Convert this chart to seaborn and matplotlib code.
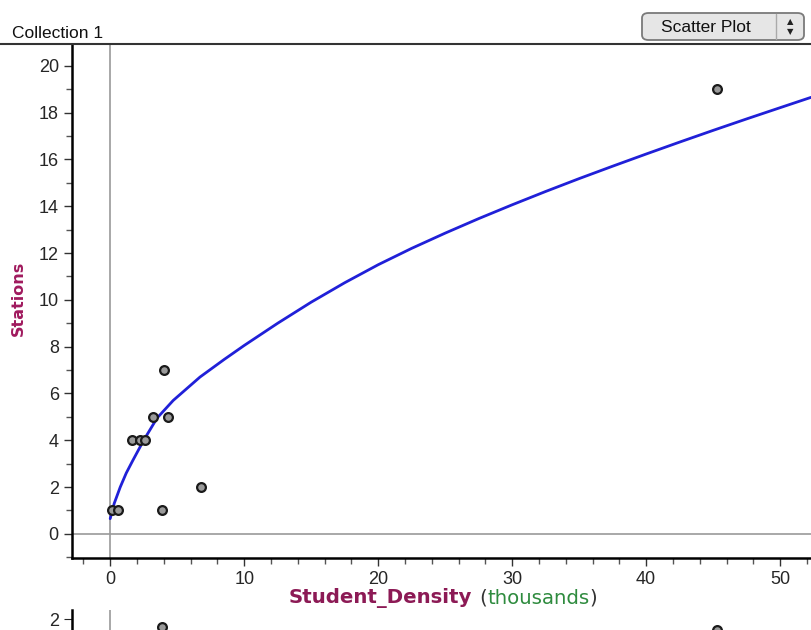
import numpy as np
import pandas as pd
import matplotlib
matplotlib.use('Agg')
import matplotlib.pyplot as plt
from matplotlib.patches import FancyBboxPatch
from matplotlib.lines import Line2D
from matplotlib.ticker import MultipleLocator
import seaborn as sns

# data
density = [0.1, 0.6, 1.6, 2.2, 2.6, 3.2, 4.3, 4.0, 3.9, 6.8, 45.3]
stations = [1, 1, 4, 4, 4, 5, 5, 7, 1, 2, 19]

# fitted curve
curve_x = [0, 0.3, 0.75, 1.2, 1.7, 2.5, 3.5, 4.7, 6.7, 8.5, 10, 12.5, 15, 17.5, 20,
           22.5, 25, 27.5, 30, 32.5, 35, 37.5, 40, 42.5, 45, 47.5, 50, 52.3]
curve_y = [0.65, 1.3, 2.0, 2.6, 3.15, 4.0, 4.95, 5.7, 6.7, 7.45, 8.05, 9.0, 9.9, 10.73,
           11.5, 12.2, 12.85, 13.47, 14.06, 14.63, 15.18, 15.71, 16.23, 16.74, 17.24,
           17.73, 18.21, 18.65]

# partial lower panel (only the top is visible)
resid_x = [3.9, 45.3]
resid_y = [1.67, 1.55]

sns.set_style("white")
plt.rcParams['font.family'] = ['Liberation Sans', 'DejaVu Sans']

W, H = 811, 630
fig = plt.figure(figsize=(W / 100, H / 100), dpi=100)

def box(l, t, r, b):
    return [l / W, 1 - b / H, (r - l) / W, (b - t) / H]

ax = fig.add_axes(box(72, 44, 811, 558))
df = pd.DataFrame({'x': density, 'y': stations})
curve = pd.DataFrame({'x': curve_x, 'y': curve_y})

ax.axvline(0, color='#999999', lw=1.2, zorder=1)
ax.axhline(0, color='#999999', lw=1.2, zorder=1)
sns.lineplot(data=curve, x='x', y='y', ax=ax, color='#2020d8', lw=2, zorder=2)
sns.scatterplot(data=df, x='x', y='y', ax=ax, color='#9a9a9a', edgecolor='#1a1a1a',
                linewidth=1.6, s=40, zorder=3)

ax.set_xlim(-2.85, 52.3)
ax.set_ylim(-1.03, 20.93)
ax.xaxis.set_major_locator(MultipleLocator(10))
ax.xaxis.set_minor_locator(MultipleLocator(2))
ax.yaxis.set_major_locator(MultipleLocator(2))
ax.yaxis.set_minor_locator(MultipleLocator(1))
ax.tick_params(axis='both', which='major', direction='out', length=6, width=1,
               labelsize=13, color='#333333', left=True, bottom=True)
ax.tick_params(axis='both', which='minor', direction='out', length=4, width=1,
               color='#555555', left=True, bottom=True)
for s in ['top', 'right']:
    ax.spines[s].set_visible(False)
for s in ['left', 'bottom']:
    ax.spines[s].set_color('black')
    ax.spines[s].set_linewidth(1.8)
ax.set_xlabel('')
ax.set_ylabel('')

fig.text(18 / W, 1 - 298 / H, 'Stations', rotation=90, ha='center', va='center',
         fontsize=11.5, fontweight='bold', color='#a01a5e', family=['DejaVu Sans'])

# x label in coloured pieces, placed one after another
renderer = fig.canvas.get_renderer()
pieces = [('Student_Density', '#8c1a55', 'bold', 0),
          ('(', '#333333', 'normal', 6),
          ('thousands', '#2e8b3e', 'normal', 0),
          (')', '#333333', 'normal', 0)]
xpos = 289
for txt, col, wt, gap in pieces:
    xpos += gap
    t = fig.text(xpos / W, 1 - 598 / H, txt, ha='left', va='center', fontsize=14.2,
                 fontweight=wt, color=col, family=['DejaVu Sans'])
    xpos = t.get_window_extent(renderer).x1 + 0.5

# lower panel, cut off by the figure edge
ax2 = fig.add_axes(box(72, 610, 811, 810))
sns.scatterplot(x=resid_x, y=resid_y, ax=ax2, color='#9a9a9a', edgecolor='#1a1a1a',
                linewidth=1.6, s=40, zorder=3, clip_on=False)
ax2.axvline(0, color='#999999', lw=1.2)
ax2.set_xlim(-2.85, 52.3)
ax2.set_ylim(-6.15, 2.4)
ax2.set_yticks([2])
ax2.set_xticks([])
ax2.tick_params(axis='y', direction='out', length=6, labelsize=13, left=True)
for s in ['top', 'right', 'bottom']:
    ax2.spines[s].set_visible(False)
ax2.spines['left'].set_color('black')
ax2.spines['left'].set_linewidth(1.8)

# header
fig.add_artist(Line2D([0, 1], [1 - 44 / H, 1 - 44 / H], color='#333333', lw=1.5))
fig.text(12 / W, 1 - 33 / H, 'Collection 1', ha='left', va='center', fontsize=12.5,
         color='#111111')
btn = FancyBboxPatch((642 / W, 1 - 40 / H), 162 / W, 27 / H,
                     boxstyle='round,pad=0,rounding_size=0.008',
                     transform=fig.transFigure, facecolor='#e6e6e6',
                     edgecolor='#7a7a7a', lw=1.3)
fig.add_artist(btn)
fig.text(706 / W, 1 - 27 / H, 'Scatter Plot', ha='center', va='center', fontsize=12.5,
         color='#111111')
fig.add_artist(Line2D([776 / W, 776 / W], [1 - 39 / H, 1 - 14 / H], color='#aaaaaa', lw=1))
fig.text(790 / W, 1 - 22 / H, '▲', ha='center', va='center', fontsize=6,
         family=['DejaVu Sans'], color='#222222')
fig.text(790 / W, 1 - 32 / H, '▼', ha='center', va='center', fontsize=6,
         family=['DejaVu Sans'], color='#222222')

fig.savefig('out.png', dpi=100)
